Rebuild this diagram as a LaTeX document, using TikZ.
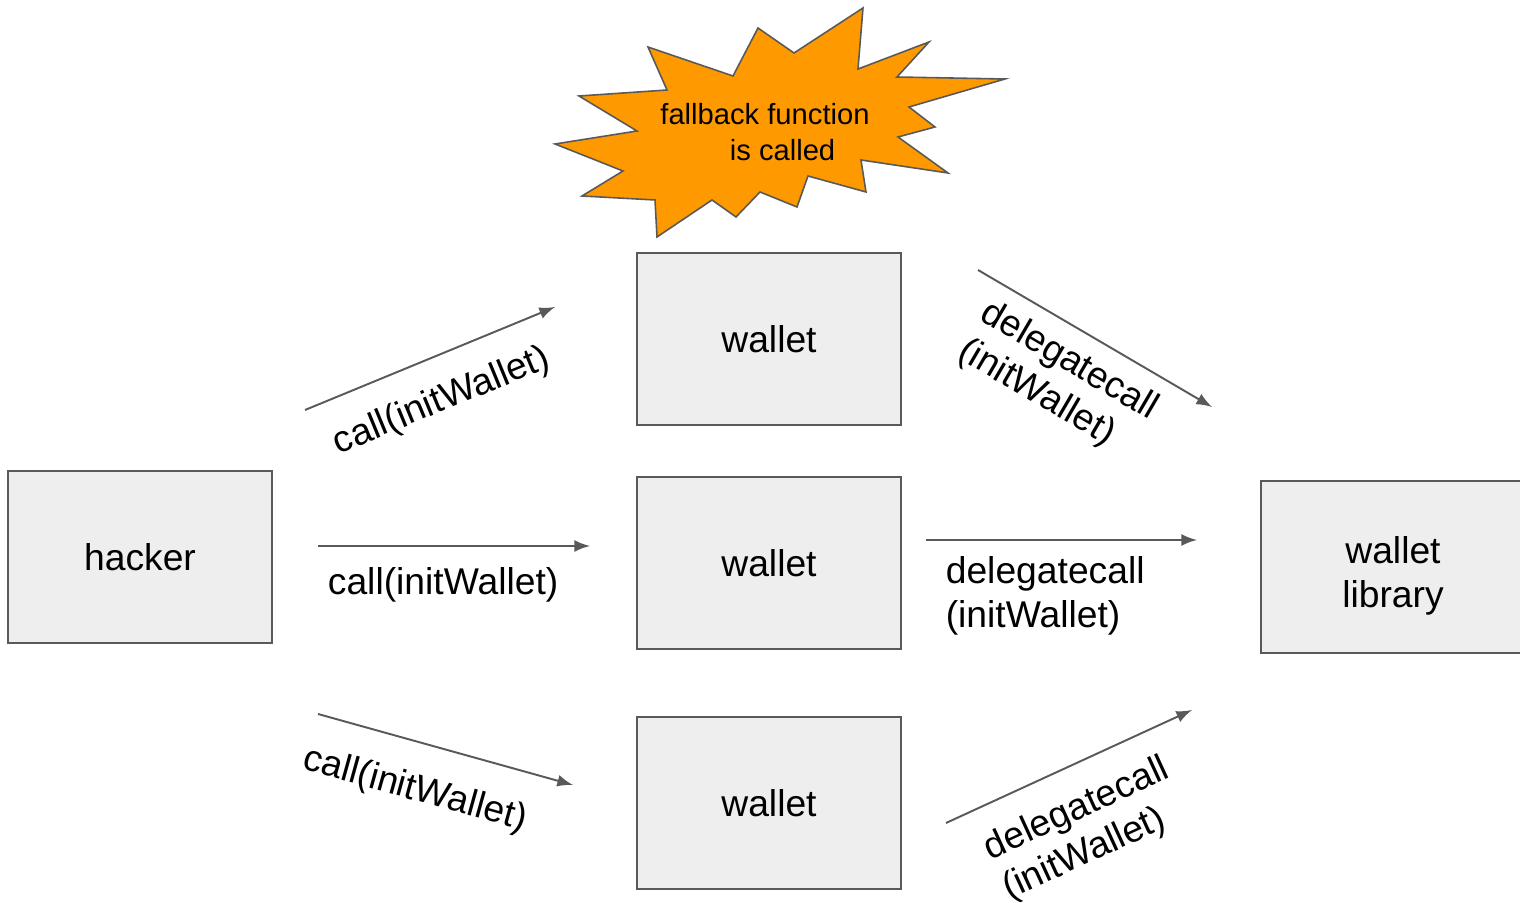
\documentclass[tikz,border=0pt]{standalone}
\usepackage{fontspec}
\setmainfont{Liberation Sans}
\usepackage{tikz}
\usetikzlibrary{positioning}
\usetikzlibrary{arrows}
\tikzset{>=latex}
\definecolor{boxfill}{HTML}{EEEEEE}
\definecolor{edgegray}{HTML}{595959}
\definecolor{burst}{HTML}{FF9900}
\tikzstyle{box} = [draw=edgegray, fill=boxfill, line width=0.45pt, minimum width=2.64cm, minimum height=1.72cm, align=center, font=\fontsize{10.6}{12.5}\selectfont]
\tikzstyle{call} = [-latex, edgegray, line width=0.55pt]
\tikzstyle{lbl} = [text=black, font=\fontsize{10.6}{12.5}\selectfont, align=left]

\begin{document}
\begin{tikzpicture}
\useasboundingbox (0, 0) rectangle (15.2, 9.03);

% boxes
\node [box] (hacker) at (1.40, 3.46) {hacker};
\node [box] (W1) at (7.69, 5.64) {wallet};
\node [box] (W2) at (7.69, 3.40) {wallet};
\node [box] (W3) at (7.69, 1.00) {wallet};
\node [box, text height=25pt] (lib) at (13.93, 3.36) {wallet\\library};

% burst
\draw [draw=edgegray, fill=burst, line width=0.45pt]
  (5.55,7.59) -- (6.37,7.72) -- (5.79,8.07) -- (6.67,8.13) -- (6.48,8.56)
  -- (7.33,8.27) -- (7.58,8.75) -- (7.94,8.50) -- (8.63,8.95) -- (8.58,8.34)
  -- (9.29,8.61) -- (8.97,8.26) -- (10.05,8.24) -- (9.09,7.96) -- (9.35,7.76)
  -- (8.98,7.66) -- (9.48,7.30) -- (8.61,7.43) -- (8.66,7.11) -- (8.08,7.27)
  -- (7.97,6.96) -- (7.60,7.11) -- (7.36,6.86) -- (7.12,7.03) -- (6.57,6.66)
  -- (6.55,7.03) -- (5.82,7.07) -- (6.23,7.32) -- cycle;
\node [align=center, font=\fontsize{8.3}{10.2}\selectfont] (fb) at (7.65, 7.71)
  {fallback function\\\hspace*{10pt}is called};

% arrow ends
\coordinate (c1s) at (3.05, 4.93);
\coordinate (c1e) at (5.55, 5.96);
\coordinate (c2s) at (3.18, 3.57);
\coordinate (c2e) at (5.90, 3.57);
\coordinate (c3s) at (3.18, 1.89);
\coordinate (c3e) at (5.73, 1.18);
\coordinate (d1s) at (9.78, 6.33);
\coordinate (d1e) at (12.12, 4.96);
\coordinate (d2s) at (9.26, 3.63);
\coordinate (d2e) at (11.97, 3.63);
\coordinate (d3s) at (9.46, 0.80);
\coordinate (d3e) at (11.92, 1.93);

\draw [call] (c1s) to node [lbl, sloped, below, pos=0.48, yshift=-4pt] {call(initWallet)} (c1e);
\draw [call] (c2s) to node [lbl, below, pos=0.46, yshift=-2.5pt] {call(initWallet)} (c2e);
\draw [call] (c3s) to node [lbl, sloped, below, pos=0.43, yshift=-5pt] {call(initWallet)} (c3e);
\draw [call] (d1s) to node [lbl, sloped, below, pos=0.46, yshift=-0.8pt] {delegatecall\\(initWallet)} (d1e);
\draw [call] (d2s) to node [lbl, below, pos=0.44, yshift=-1.2pt] {delegatecall\\(initWallet)} (d2e);
\draw [call] (d3s) to node [lbl, sloped, below, pos=0.46, yshift=-3.6pt] {delegatecall\\(initWallet)} (d3e);
\end{tikzpicture}
\end{document}
